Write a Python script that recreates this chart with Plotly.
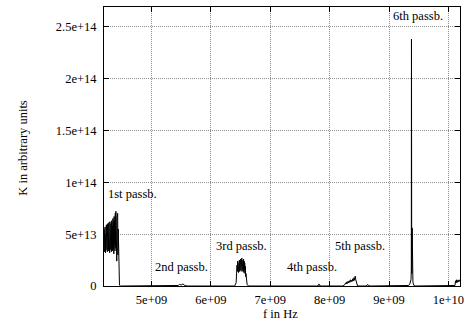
import plotly.graph_objects as go

# ---- data (frequency in GHz, K in units of 1e13) ----
f_p1 = [4.200, 4.205, 4.210, 4.215, 4.220, 4.225, 4.230, 4.235, 4.240, 4.245,
        4.250, 4.255, 4.260, 4.265, 4.270, 4.275, 4.280, 4.285, 4.290, 4.295,
        4.300, 4.305, 4.310, 4.315, 4.320, 4.325, 4.330, 4.335, 4.340, 4.345,
        4.350, 4.355, 4.360, 4.365, 4.370, 4.375, 4.380, 4.385, 4.390, 4.395,
        4.400, 4.405, 4.410, 4.415, 4.420, 4.425, 4.430, 4.435, 4.440, 4.445,
        4.450, 4.455, 4.460, 4.465, 4.475, 4.500]
k_p1 = [4.5, 3.3, 5.4, 3.6, 5.7, 3.2, 5.0, 3.5, 5.9, 3.7,
        5.3, 3.3, 6.0, 3.8, 5.6, 3.4, 6.1, 3.6, 5.7, 3.2,
        6.2, 3.9, 5.5, 3.5, 6.0, 3.3, 6.3, 3.8, 5.8, 3.4,
        6.5, 3.6, 6.1, 3.1, 6.7, 4.0, 6.3, 3.4, 7.0, 3.7,
        7.2, 3.5, 6.8, 2.4, 6.6, 4.1, 7.0, 3.0, 5.5, 3.0,
        1.5, 0.6, 0.2, 0.05, 0.0, 0.0]

f_p2 = [5.40, 5.45, 5.47, 5.50, 5.53, 5.56, 5.60]
k_p2 = [0.0, 0.05, 0.15, 0.1, 0.2, 0.05, 0.0]

f_p3 = [6.40, 6.425, 6.430, 6.435, 6.440, 6.445, 6.450, 6.455, 6.460, 6.465,
        6.470, 6.475, 6.480, 6.485, 6.490, 6.495, 6.500, 6.505, 6.510, 6.515,
        6.520, 6.525, 6.530, 6.535, 6.540, 6.545, 6.550, 6.555, 6.560, 6.565,
        6.570, 6.575, 6.580, 6.585, 6.590, 6.595, 6.600, 6.610, 6.620, 6.640]
k_p3 = [0.0, 0.3, 1.6, 1.2, 2.0, 1.4, 2.4, 1.5, 2.2, 1.3,
        2.0, 1.6, 2.5, 1.4, 2.1, 1.7, 2.6, 1.5, 2.3, 1.6,
        2.7, 1.4, 2.2, 1.8, 2.5, 1.5, 2.6, 1.3, 2.4, 1.6,
        2.2, 1.2, 1.9, 0.9, 1.2, 0.5, 0.3, 0.15, 0.05, 0.0]

f_p4 = [7.78, 7.81, 7.82, 7.83, 7.86]
k_p4 = [0.0, 0.05, 0.2, 0.05, 0.0]

f_p5 = [8.22, 8.25, 8.27, 8.28, 8.29, 8.30, 8.31, 8.32, 8.33, 8.34,
        8.35, 8.36, 8.37, 8.38, 8.39, 8.40, 8.41, 8.42, 8.43, 8.44,
        8.45, 8.47, 8.60, 8.63, 8.64, 8.65, 8.68]
k_p5 = [0.0, 0.1, 0.3, 0.2, 0.4, 0.25, 0.45, 0.3, 0.5, 0.35,
        0.6, 0.4, 0.55, 0.45, 0.7, 0.5, 0.8, 0.55, 0.95, 0.6,
        0.3, 0.0, 0.0, 0.05, 0.15, 0.05, 0.0]

f_p6 = [9.30, 9.33, 9.35, 9.36, 9.365, 9.370, 9.375, 9.378, 9.382, 9.386,
        9.390, 9.394, 9.398, 9.402, 9.41, 9.42, 9.44]
k_p6 = [0.0, 0.05, 0.2, 0.4, 0.3, 0.6, 1.5, 23.8, 1.2, 2.5,
        5.6, 0.8, 0.5, 0.4, 0.2, 0.05, 0.0]

f_p7 = [10.08, 10.11, 10.12, 10.13, 10.14, 10.15, 10.16, 10.17, 10.18, 10.19, 10.20]
k_p7 = [0.0, 0.05, 0.5, 0.3, 0.6, 0.35, 0.55, 0.4, 0.6, 0.45, 0.5]

x_ticks = [5e9, 6e9, 7e9, 8e9, 9e9, 1e10]
x_tick_labels = ["5e+09", "6e+09", "7e+09", "8e+09", "9e+09", "1e+10"]
y_ticks = [0, 5e13, 1e14, 1.5e14, 2e14, 2.5e14]
y_tick_labels = ["0", "5e+13", "1e+14", "1.5e+14", "2e+14", "2.5e+14"]

labels = ["1st passb.", "2nd passb.", "3rd passb.", "4th passb.", "5th passb.", "6th passb."]
label_x = [4.228e9, 5.033e9, 6.055e9, 7.245e9, 8.06e9, 9.033e9]
label_y = [8.85e13, 1.86e13, 3.85e13, 1.86e13, 3.85e13, 2.606e14]

# ---- assemble ----
f_all = f_p1 + f_p2 + f_p3 + f_p4 + f_p5 + f_p6 + f_p7
k_all = k_p1 + k_p2 + k_p3 + k_p4 + k_p5 + k_p6 + k_p7
x = [v * 1e9 for v in f_all]
y = [v * 1e13 for v in k_all]

FONT = "Liberation Serif"
FS = 12.5

fig = go.Figure()
fig.add_trace(go.Scatter(x=x, y=y, mode="lines",
                         line=dict(color="black", width=1), showlegend=False,
                         hoverinfo="skip"))

for t, lx, ly in zip(labels, label_x, label_y):
    fig.add_annotation(x=lx, y=ly, text=t, showarrow=False, xanchor="left",
                       yanchor="middle", font=dict(family=FONT, size=FS, color="black"))

fig.add_annotation(xref="paper", yref="paper", x=-0.23, y=0.496,
                   text="K in arbitrary units", textangle=-90, showarrow=False,
                   xanchor="center", yanchor="middle",
                   font=dict(family=FONT, size=FS, color="black"))
fig.add_annotation(xref="paper", yref="paper", x=0.497, y=-0.102,
                   text="f in Hz", showarrow=False,
                   xanchor="center", yanchor="middle",
                   font=dict(family=FONT, size=FS, color="black"))

axis_common = dict(showline=True, linecolor="black", linewidth=1, mirror="ticks",
                   ticks="inside", ticklen=5, tickcolor="black",
                   showgrid=True, gridcolor="#909090", griddash="1px,1px", gridwidth=1,
                   zeroline=False, tickfont=dict(family=FONT, size=FS, color="black"))

fig.update_xaxes(range=[4.2e9, 1.0195e10], tickvals=x_ticks, ticktext=x_tick_labels,
                 ticklabelstandoff=2, **axis_common)
fig.update_yaxes(range=[0, 2.69e14], tickvals=y_ticks, ticktext=y_tick_labels,
                 ticklabelstandoff=4, **axis_common)

fig.update_layout(width=470, height=327, margin=dict(l=104, r=6, t=6, b=41),
                  plot_bgcolor="white", paper_bgcolor="white",
                  font=dict(family=FONT, size=FS, color="black"))

fig.write_html("out.html")
